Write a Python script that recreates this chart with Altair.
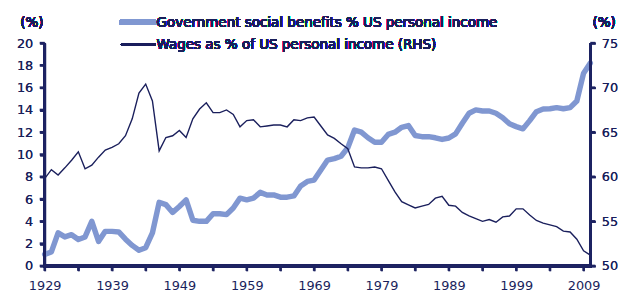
import altair as alt
import pandas as pd

years = list(range(1929, 2011))

gov_benefits = [
    1.04, 1.25, 2.97, 2.6, 2.8, 2.37, 2.6, 4.0, 2.2, 3.1,
    3.1, 3.05, 2.4, 1.84, 1.4, 1.63, 2.97, 5.7, 5.5, 4.8,
    5.33, 5.93, 4.1, 4.0, 4.0, 4.68, 4.68, 4.6, 5.2, 6.08,
    5.93, 6.08, 6.6, 6.37, 6.37, 6.17, 6.17, 6.28, 7.17, 7.58,
    7.7, 8.6, 9.5, 9.63, 9.84, 10.6, 12.2, 12.0, 11.5, 11.1,
    11.1, 11.8, 12.0, 12.44, 12.6, 11.7, 11.6, 11.6, 11.5, 11.35,
    11.48, 11.85, 12.8, 13.7, 14.0, 13.9, 13.9, 13.7, 13.3, 12.75,
    12.5, 12.3, 13.04, 13.84, 14.08, 14.1, 14.2, 14.1, 14.2, 14.8,
    17.3, 18.2,
]

wages = [
    59.8, 60.8, 60.2, 61.0, 61.85, 62.8, 60.9, 61.3, 62.2, 63.0,
    63.3, 63.7, 64.6, 66.5, 69.4, 70.4, 68.5, 62.9, 64.4, 64.6,
    65.2, 64.4, 66.5, 67.6, 68.3, 67.2, 67.2, 67.5, 67.0, 65.6,
    66.3, 66.4, 65.6, 65.7, 65.8, 65.8, 65.6, 66.4, 66.3, 66.6,
    66.7, 65.7, 64.7, 64.3, 63.7, 63.15, 61.1, 61.0, 61.0, 61.1,
    60.9, 59.6, 58.3, 57.2, 56.85, 56.5, 56.7, 56.9, 57.6, 57.8,
    56.8, 56.7, 56.0, 55.6, 55.3, 55.0, 55.2, 54.9, 55.5, 55.6,
    56.4, 56.4, 55.7, 55.1, 54.8, 54.6, 54.4, 53.9, 53.8, 53.0,
    51.7, 51.2,
]

legend_labels = [
    "Government social benefits % US personal income",
    "Wages as % of US personal income (RHS)",
]
tick_years = list(range(1929, 2010, 5))
left_ticks = list(range(0, 21, 2))
right_ticks = list(range(50, 76, 5))

NAVY = "#1a1f5c"
AXIS_NAVY = "#1d2362"
LIGHT = "#8097d1"
FONT = "DejaVu Sans"
W, H = 551, 225

df = pd.DataFrame({"year": years, "gov": gov_benefits, "wages": wages})
df_xt = pd.DataFrame({"year": tick_years})
df_lt = pd.DataFrame({"gov": left_ticks})
df_rt = pd.DataFrame({"wages": right_ticks})

x_scale = alt.Scale(domain=[1929, 2010], nice=False, zero=False)
y_left = alt.Scale(domain=[0, 20], nice=False)
y_right = alt.Scale(domain=[50, 75], nice=False, zero=False)

x_axis = alt.Axis(
    values=tick_years,
    labelExpr="(datum.value - 1929) % 10 == 0 ? format(datum.value, 'd') : ''",
    orient="bottom",
    labelPadding=9,
    labelFlush=False,
)
left_axis = alt.Axis(values=left_ticks, orient="left", labelPadding=7)
right_axis = alt.Axis(values=right_ticks, orient="right", labelPadding=6)

gov_line = alt.Chart(df).mark_line(
    color=LIGHT, strokeWidth=5.5, strokeJoin="round", strokeCap="round"
).encode(
    x=alt.X("year:Q", scale=x_scale, axis=x_axis),
    y=alt.Y("gov:Q", scale=y_left, axis=left_axis),
)

wage_line = alt.Chart(df).mark_line(color=NAVY, strokeWidth=1.4).encode(
    x=alt.X("year:Q", scale=x_scale, axis=x_axis),
    y=alt.Y("wages:Q", scale=y_right, axis=right_axis),
)

# Axis lines and ticks drawn as rules (through the scales)
left_domain = alt.Chart(df).mark_rule(color=AXIS_NAVY, strokeWidth=2.5).encode(
    x=alt.value(0), y=alt.value(0), y2=alt.value(H + 1)
)
right_domain = alt.Chart(df).mark_rule(color=AXIS_NAVY, strokeWidth=2.5).encode(
    x=alt.value(W), y=alt.value(0), y2=alt.value(H + 1)
)
bottom_domain = alt.Chart(df).mark_rule(color=AXIS_NAVY, strokeWidth=2.5).encode(
    x=alt.value(-1), x2=alt.value(W + 1), y=alt.value(H)
)
x_ticks = alt.Chart(df_xt).mark_rule(color=AXIS_NAVY, strokeWidth=2.5).encode(
    x=alt.X("year:Q", scale=x_scale, axis=x_axis), y=alt.value(H), y2=alt.value(H + 5)
)
l_ticks = alt.Chart(df_lt).mark_rule(color=AXIS_NAVY, strokeWidth=2.5).encode(
    y=alt.Y("gov:Q", scale=y_left, axis=left_axis), x=alt.value(-5), x2=alt.value(0)
)
r_ticks = alt.Chart(df_rt).mark_rule(color=AXIS_NAVY, strokeWidth=2.5).encode(
    y=alt.Y("wages:Q", scale=y_right, axis=right_axis), x=alt.value(W), x2=alt.value(W + 5)
)

# Legend (manual)
leg_gov = alt.Chart(df).mark_rule(color=LIGHT, strokeWidth=5.5, strokeCap="round").encode(
    x=alt.value(78), x2=alt.value(111), y=alt.value(-21)
)
leg_wage = alt.Chart(df).mark_rule(color=NAVY, strokeWidth=1.4).encode(
    x=alt.value(77), x2=alt.value(112), y=alt.value(1.5)
)
leg_text1 = alt.Chart(df).mark_text(
    align="left", baseline="middle", font=FONT, fontSize=13.6, color=NAVY
).encode(x=alt.value(113), y=alt.value(-20), text=alt.value(legend_labels[0]))
leg_text2 = alt.Chart(df).mark_text(
    align="left", baseline="middle", font=FONT, fontSize=13.6, color=NAVY
).encode(x=alt.value(113), y=alt.value(2), text=alt.value(legend_labels[1]))

pct_left = alt.Chart(df).mark_text(
    align="center", baseline="middle", font=FONT, fontSize=13.6, color=NAVY
).encode(x=alt.value(-13), y=alt.value(-20), text=alt.value("(%)"))
pct_right = alt.Chart(df).mark_text(
    align="center", baseline="middle", font=FONT, fontSize=13.6, color=NAVY
).encode(x=alt.value(565), y=alt.value(-20), text=alt.value("(%)"))

chart = (
    alt.layer(
        gov_line, l_ticks, wage_line, r_ticks, x_ticks,
        left_domain, right_domain, bottom_domain,
        leg_gov, leg_wage, leg_text1, leg_text2, pct_left, pct_right,
    )
    .resolve_scale(y="independent")
    .properties(
        width=W,
        height=H,
        background="white",
        autosize=alt.AutoSizeParams(type="none"),
        padding={"left": 37, "top": 34, "right": 32, "bottom": 30},
    )
    .configure_view(strokeWidth=0)
    .configure_axis(
        title=None,
        grid=False,
        domain=True,
        ticks=True,
        domainColor=AXIS_NAVY,
        domainWidth=2,
        tickColor=AXIS_NAVY,
        tickWidth=2,
        tickSize=5,
        labelColor=NAVY,
        labelFont=FONT,
        labelFontSize=13,
    )
)

chart.save("out.html", embed_options={"renderer": "svg", "actions": False})
